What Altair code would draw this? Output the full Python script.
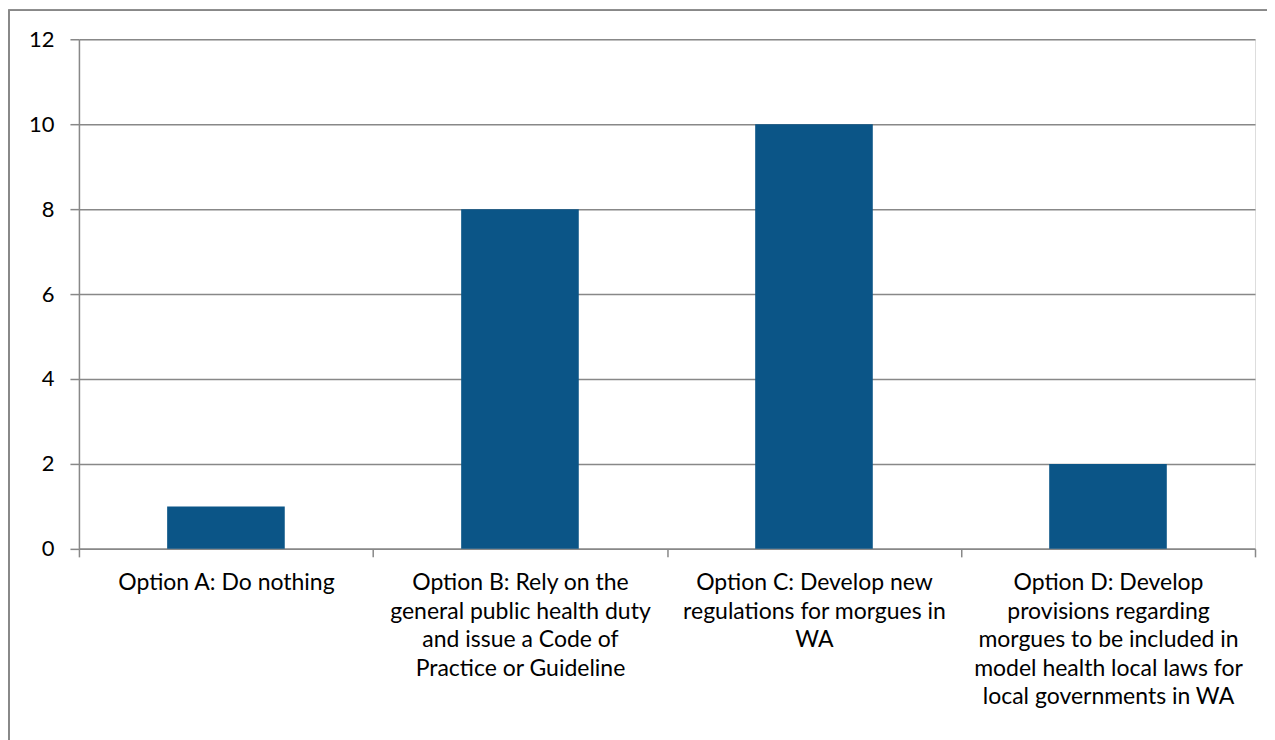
import altair as alt
import pandas as pd

categories = [
    "Option A: Do nothing",
    "Option B: Rely on the|general public health duty|and issue a Code of|Practice or Guideline",
    "Option C: Develop new|regulations for morgues in|WA",
    "Option D: Develop|provisions regarding|morgues to be included in|model health local laws for|local governments in WA",
]
values = [1, 8, 10, 2]

df = pd.DataFrame({"option": categories, "count": values})

W, H = 1177, 510
FONT = "Lato"
GRID = "#888888"

x_enc = alt.X(
    "option:N",
    sort=categories,
    title=None,
    scale=alt.Scale(paddingInner=0, paddingOuter=0),
    axis=alt.Axis(
        labelExpr="split(datum.label, '|')",
        labelAngle=0,
        labelFontSize=23,
        labelFont=FONT,
        labelColor="#000000",
        labelLineHeight=28.5,
        labelPadding=15,
        labelLimit=400,
        tickBand="extent",
        tickSize=8,
        tickColor=GRID,
        tickWidth=1.5,
        domainColor=GRID,
        domainWidth=1.5,
        grid=False,
    ),
)

bars = alt.Chart(df).mark_bar(color="#0B5587", width=alt.RelativeBandSize(0.4)).encode(
    x=x_enc,
    y=alt.Y(
        "count:Q",
        title=None,
        scale=alt.Scale(domain=[0, 12]),
        axis=alt.Axis(
            values=[0, 2, 4, 6, 8, 10, 12],
            labelFontSize=22,
            labelFont=FONT,
            labelColor="#000000",
            labelPadding=16,
            tickSize=9,
            tickColor=GRID,
            tickWidth=1.5,
            domainColor=GRID,
            domainWidth=1.5,
            gridColor=GRID,
            gridWidth=1.5,
        ),
    ),
)

border = alt.Chart(df).mark_rect(fill=None, stroke=GRID, strokeWidth=1.5, clip=False).encode(
    x=alt.value(-70),
    x2=alt.value(W + 60),
    y=alt.value(-29),
    y2=alt.value(H + 250),
)

chart = (
    alt.layer(border, bars)
    .properties(
        width=W,
        height=H,
        autosize=alt.AutoSizeParams(type="none"),
        padding={"left": 71, "top": 31, "right": 12, "bottom": 195},
    )
    .configure_view(stroke=None)
    .configure(background="#ffffff")
)

chart.save("out.html", embed_options={"renderer": "svg", "actions": False})
